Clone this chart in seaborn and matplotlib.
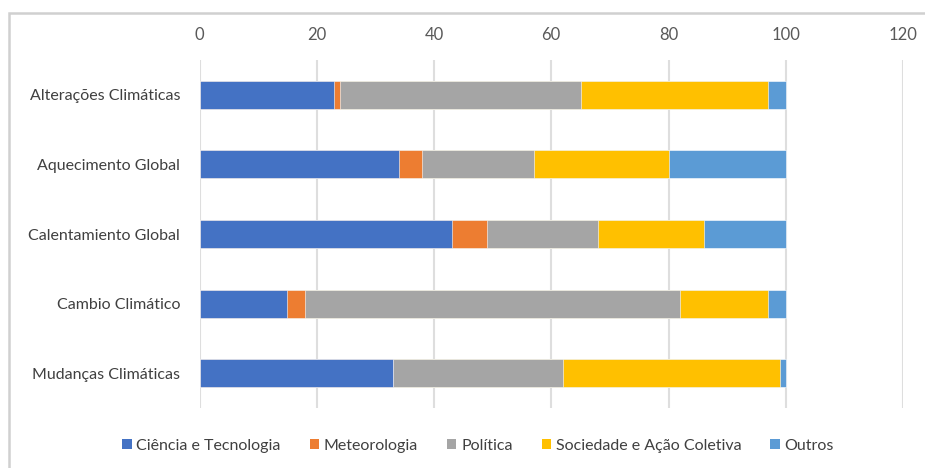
import matplotlib
matplotlib.use("Agg")
import matplotlib.pyplot as plt
from matplotlib.patches import Rectangle, Patch
import numpy as np
import pandas as pd
import seaborn as sns

categories = ["Alterações Climáticas", "Aquecimento Global", "Calentamiento Global",
              "Cambio Climático", "Mudanças Climáticas"]
series_names = ["Ciência e Tecnologia", "Meteorologia", "Política",
                "Sociedade e Ação Coletiva", "Outros"]
ciencia = [23, 34, 43, 15, 33]
meteorologia = [1, 4, 6, 3, 0]
politica = [41, 19, 19, 64, 29]
sociedade = [32, 23, 18, 15, 37]
outros = [3, 20, 14, 3, 1]
x_ticks = [0, 20, 40, 60, 80, 100, 120]

colors = ["#4472C4", "#ED7D31", "#A5A5A5", "#FFC000", "#5B9BD5"]

sns.set_theme(style="white")
plt.rcParams["font.family"] = ["Lato", "DejaVu Sans"]

values = np.array([ciencia, meteorologia, politica, sociedade, outros], dtype=float)
cum = np.cumsum(values, axis=0)

W, H = 925, 468
fig = plt.figure(figsize=(W / 100, H / 100), dpi=100)
ax = fig.add_axes([199.5 / W, 1 - 408 / H, (903 - 199.5) / W, (408 - 60) / H])

# stacked bars: draw cumulative totals from the outermost segment inward
for i in range(len(series_names) - 1, -1, -1):
    df = pd.DataFrame({"categoria": categories, "valor": cum[i]})
    sns.barplot(data=df, x="valor", y="categoria", color=colors[i], ax=ax,
                width=0.4, saturation=1, edgecolor="white", linewidth=0.4,
                order=categories, zorder=3)

ax.set_xlim(0, 120)
ax.set_ylim(4.5, -0.5)
ax.set_xticks(x_ticks)
ax.xaxis.tick_top()
ax.tick_params(axis="x", length=0, pad=12, labelsize=12, labelcolor="#595959")
ax.tick_params(axis="y", length=0, pad=14, labelsize=11.5, labelcolor="#404040")
ax.grid(axis="x", color="#dedede", linewidth=1.5, zorder=0)
ax.set_axisbelow(True)
ax.set_xlabel("")
ax.set_ylabel("")
for s in ax.spines.values():
    s.set_visible(False)

handles = [Patch(facecolor=c, edgecolor="none") for c in colors]
fig.legend(handles, series_names, loc="center", bbox_to_anchor=(478 / W, 1 - 446 / H),
           ncol=5, frameon=False, fontsize=11.5, handlelength=0.6, handleheight=0.6,
           handletextpad=0.3, columnspacing=1.8, labelcolor="#404040")

# outer chart border
fig.patches.append(Rectangle((8.5 / W, -0.05), 1.1, 1 - 12.5 / H + 0.05,
                             transform=fig.transFigure, fill=False,
                             edgecolor="#d0d0d0", linewidth=1.8))

fig.savefig("out.png", dpi=100)
